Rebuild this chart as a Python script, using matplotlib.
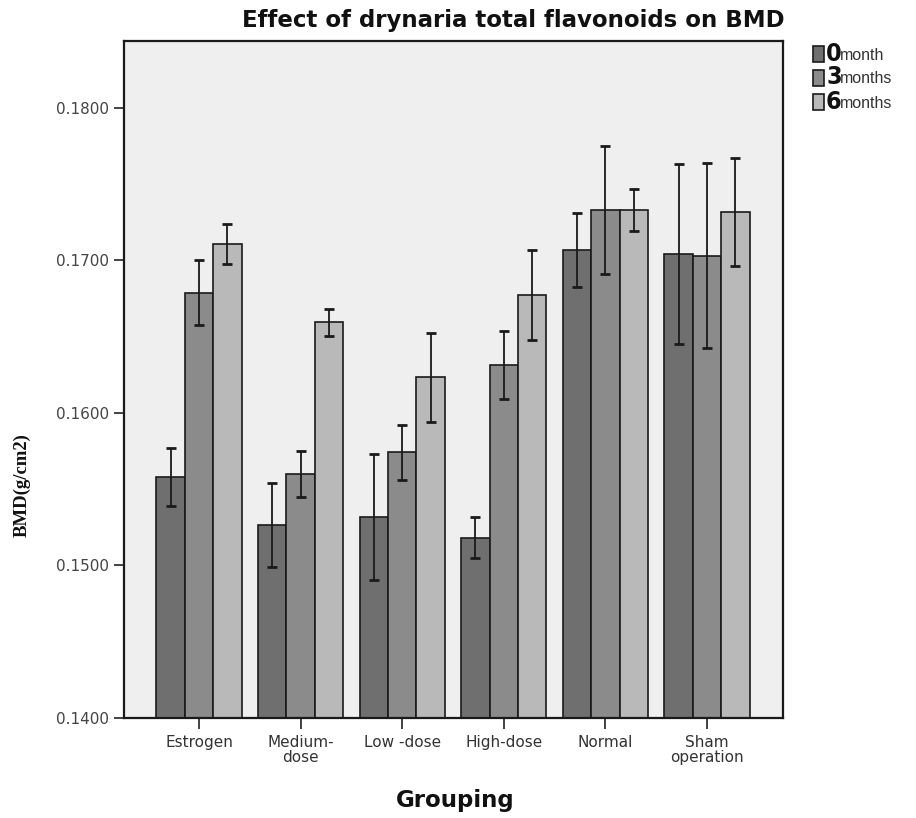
import numpy as np
import matplotlib.pyplot as plt
from matplotlib.patches import Rectangle

# BMD (g/cm2) by treatment group at 0, 3 and 6 months, with error bar half-widths
groups = ["Estrogen", "Medium-\ndose", "Low -dose", "High-dose", "Normal", "Sham\noperation"]
bmd_0m = [0.15582, 0.15266, 0.15320, 0.15182, 0.17069, 0.17043]
bmd_3m = [0.16789, 0.15600, 0.15742, 0.16315, 0.17331, 0.17030]
bmd_6m = [0.17108, 0.16595, 0.16234, 0.16774, 0.17331, 0.17316]
err_0m = [0.00191, 0.00273, 0.00413, 0.00136, 0.00243, 0.00590]
err_3m = [0.00214, 0.00148, 0.00181, 0.00222, 0.00418, 0.00607]
err_6m = [0.00130, 0.00090, 0.00290, 0.00295, 0.00140, 0.00354]

series_digits = ["0", "3", "6"]
series_words = ["month", "months", "months"]
colors = ["#6f6f6f", "#8b8b8b", "#b9b9b9"]

W, H = 916, 818
fig = plt.figure(figsize=(W / 100, H / 100), dpi=100)
fig.patch.set_facecolor("white")
ax = fig.add_axes([124 / W, 1 - 718 / H, (783 - 124) / W, (718 - 41) / H])
ax.set_facecolor("#efefef")

x = np.arange(len(groups))
bw = 0.279
for i, (vals, errs) in enumerate([(bmd_0m, err_0m), (bmd_3m, err_3m), (bmd_6m, err_6m)]):
    ax.bar(x + (i - 1) * bw, vals, bw, color=colors[i], edgecolor="#1a1a1a",
           linewidth=1.2, zorder=2)
    ax.errorbar(x + (i - 1) * bw, vals, yerr=errs, fmt="none", ecolor="#1a1a1a",
                elinewidth=1.3, capsize=3.5, capthick=2, zorder=3)

ax.set_xlim(-0.738, 5.748)
ax.set_ylim(0.14, 0.18439)
ax.set_yticks([0.14, 0.15, 0.16, 0.17, 0.18])
ax.set_yticklabels(["0.1400", "0.1500", "0.1600", "0.1700", "0.1800"])
ax.set_xticks(x)
ax.set_xticklabels(groups, linespacing=1.05)

for lab in ax.get_yticklabels():
    lab.set_fontfamily("DejaVu Sans")
    lab.set_fontsize(11)
    lab.set_color("#444444")
for lab in ax.get_xticklabels():
    lab.set_fontfamily("DejaVu Sans")
    lab.set_fontsize(11)
    lab.set_color("#333333")

ax.tick_params(axis="y", length=7, width=1.2, color="#222222", pad=4)
ax.tick_params(axis="x", length=8, width=1.2, color="#222222", pad=4)
for sp in ax.spines.values():
    sp.set_linewidth(1.6)
    sp.set_color("#1a1a1a")

fig.text(513 / W, 1 - 20 / H, "Effect of drynaria total flavonoids on BMD",
         ha="center", va="center", fontsize=16.5, fontweight="bold",
         family="DejaVu Sans", color="#111111")
fig.text(455 / W, 1 - 800 / H, "Grouping", ha="center", va="center",
         fontsize=16.5, fontweight="bold", family="DejaVu Sans", color="#111111")
fig.text(22 / W, 1 - 485 / H, "BMD(g/cm2)", ha="center", va="center",
         rotation=90, fontsize=13.5, fontweight="bold", family="Liberation Serif",
         color="#111111")

# legend drawn beside the axes
row_y = [54, 77.5, 102]
for i, yc in enumerate(row_y):
    fig.patches.append(Rectangle((813 / W, 1 - (yc + 8) / H), 11 / W, 16 / H,
                                 transform=fig.transFigure, facecolor=colors[i],
                                 edgecolor="#1a1a1a", linewidth=1.2))
    fig.text(826 / W, 1 - yc / H, series_digits[i], ha="left", va="center",
             fontsize=18, fontstretch="condensed", fontweight="bold",
             family="DejaVu Sans", color="#111111")
    fig.text(840 / W, 1 - (yc + 1) / H, series_words[i], ha="left", va="center",
             fontsize=11.5, family="Liberation Sans", color="#333333")

fig.savefig("out.png", dpi=100)
